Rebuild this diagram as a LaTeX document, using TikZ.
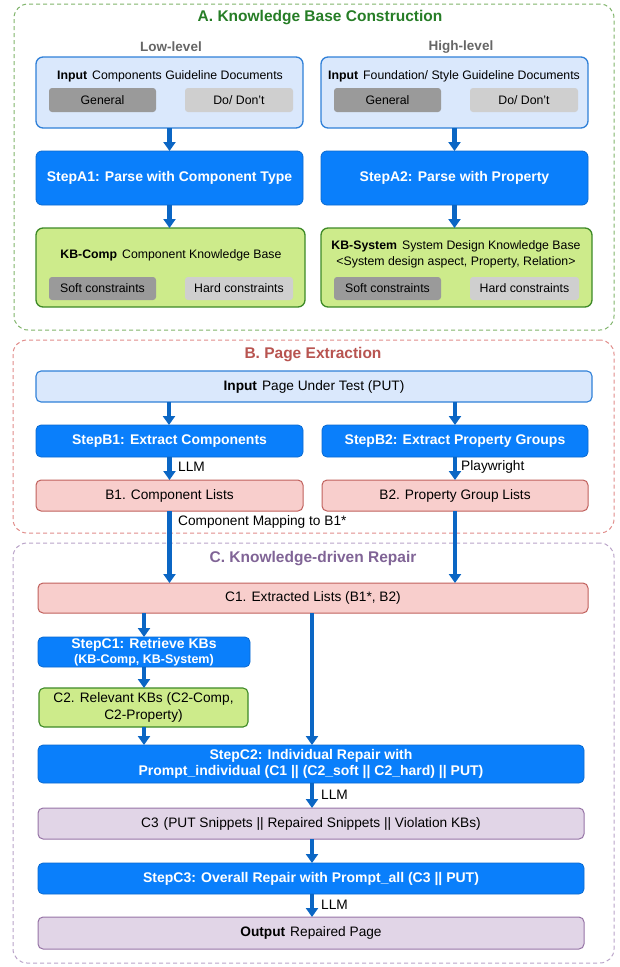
\documentclass[tikz,border=0pt]{standalone}
\usepackage{fontspec}
\setmainfont{Liberation Sans}
\usetikzlibrary{arrows.meta}
\definecolor{inFill}{HTML}{DAE8FC}
\definecolor{inDraw}{HTML}{2F80D8}
\definecolor{stFill}{HTML}{0A7FFB}
\definecolor{stDraw}{HTML}{0A6AD0}
\definecolor{kbFill}{HTML}{CDEB8B}
\definecolor{kbDraw}{HTML}{3D8A26}
\definecolor{gDark}{HTML}{9A9A9A}
\definecolor{gLight}{HTML}{CFCFCF}
\definecolor{rFill}{HTML}{F8CECC}
\definecolor{rDraw}{HTML}{C0605C}
\definecolor{pFill}{HTML}{E1D5E7}
\definecolor{pDraw}{HTML}{9673A6}
\definecolor{arBlue}{HTML}{0B66C4}
\definecolor{secA}{HTML}{7FB36A}
\definecolor{secB}{HTML}{E08C8A}
\definecolor{secC}{HTML}{B9A3C8}
\definecolor{tA}{HTML}{267D26}
\definecolor{tB}{HTML}{B85450}
\definecolor{tC}{HTML}{806496}
\definecolor{lvl}{HTML}{666666}
\newcommand{\fsA}{\fontsize{12.3}{16}\selectfont}
\newcommand{\fsB}{\fontsize{13.7}{17}\selectfont}
\newcommand{\fsS}{\fontsize{14}{16.5}\selectfont\bfseries}
\newcommand{\fsT}{\fontsize{15.5}{18}\selectfont\bfseries}
\begin{document}
\begin{tikzpicture}[x=1pt,y=-1pt,
  base/.style={inner sep=0pt,outer sep=0pt,anchor=north west},
  inbox/.style={base,draw=inDraw,fill=inFill,line width=1.3pt,rounded corners=7pt},
  stepbox/.style={base,draw=stDraw,fill=stFill,line width=0.8pt,rounded corners=6pt,text=white,font=\fsS,align=center},
  kbbox/.style={base,draw=kbDraw,fill=kbFill,line width=1.3pt,rounded corners=7pt},
  gdark/.style={base,fill=gDark,rounded corners=3pt,font=\fsA},
  glight/.style={base,fill=gLight,rounded corners=3pt,font=\fsA},
  redbox/.style={base,draw=rDraw,fill=rFill,line width=1pt,rounded corners=5pt,font=\fsB},
  purbox/.style={base,draw=pDraw,fill=pFill,line width=1pt,rounded corners=5pt,font=\fsB},
  secbox/.style={base,line width=1pt,dash pattern=on 4pt off 3pt,rounded corners=14pt},
  flow/.style={draw=arBlue,line width=4.7pt,-{Triangle[width=12pt,length=9pt]}},
  lbl/.style={anchor=west,inner sep=0pt,font=\fsB},
  ttl/.style={inner sep=0pt,font=\fsT}
]
\useasboundingbox (0,0) rectangle (619,967);

% ---------- Section A ----------
\node[secbox,draw=secA,minimum width=600pt,minimum height=326pt] (secA) at (14,4) {};
\node[ttl,text=tA] (titleA) at (320,18) {A. Knowledge Base Construction};
\node[inner sep=0pt,font=\fontsize{13.5}{16}\selectfont\bfseries,text=lvl] (low) at (171,47) {Low-level};
\node[inner sep=0pt,font=\fontsize{13.5}{16}\selectfont\bfseries,text=lvl] (high) at (461,47) {High-level};

\node[inbox,minimum width=267pt,minimum height=71pt] (inA1) at (36,57) {};
\node[inner sep=0pt,font=\fsA] (inA1t) at (170,76) {\textbf{Input}\hspace{5pt}Components Guideline Documents};
\node[gdark,minimum width=107pt,minimum height=24pt] (genA1) at (49,88) {General};
\node[glight,minimum width=108pt,minimum height=24pt] (dontA1) at (185,88) {Do/ Don't};

\node[stepbox,minimum width=267pt,minimum height=54pt] (stepA1) at (36,151) {StepA1: Parse with Component Type};

\node[kbbox,minimum width=269pt,minimum height=79pt] (kbA1) at (36,228) {};
\node[inner sep=0pt,font=\fsA] (kbA1t) at (171,255) {\textbf{KB-Comp}\hspace{5pt}Component Knowledge Base};
\node[gdark,minimum width=107pt,minimum height=23pt] (softA1) at (49,277) {Soft constraints};
\node[glight,minimum width=108pt,minimum height=23pt] (hardA1) at (185,277) {Hard constraints};

\node[inbox,minimum width=267pt,minimum height=71pt] (inA2) at (321,57) {};
\node[inner sep=0pt,font=\fsA] (inA2t) at (454,76) {\textbf{Input}\hspace{5pt}Foundation/ Style Guideline Documents};
\node[gdark,minimum width=107pt,minimum height=24pt] (genA2) at (334,88) {General};
\node[glight,minimum width=108pt,minimum height=24pt] (dontA2) at (470,88) {Do/ Don't};

\node[stepbox,minimum width=267pt,minimum height=54pt] (stepA2) at (321,151) {StepA2: Parse with Property};

\node[kbbox,minimum width=271pt,minimum height=79pt] (kbA2) at (321,228) {};
\node[inner sep=0pt,font=\fsA,align=center] (kbA2t) at (456,254) {\textbf{KB-System}\hspace{5pt}System Design Knowledge Base\\<System design aspect, Property, Relation>};
\node[gdark,minimum width=107pt,minimum height=23pt] (softA2) at (334,277) {Soft constraints};
\node[glight,minimum width=109pt,minimum height=23pt] (hardA2) at (470,277) {Hard constraints};

\draw[flow] (inA1.south) -- (inA1.south |- stepA1.north);
\draw[flow] (stepA1.south) -- (stepA1.south |- kbA1.north);
\draw[flow] (inA2.south) -- (inA2.south |- stepA2.north);
\draw[flow] (stepA2.south) -- (stepA2.south |- kbA2.north);

% ---------- Section B ----------
\node[secbox,draw=secB,minimum width=601pt,minimum height=193pt] (secB) at (13,340) {};
\node[ttl,text=tB] (titleB) at (313,355) {B. Page Extraction};
\node[inbox,line width=1.1pt,rounded corners=5pt,minimum width=556pt,minimum height=31pt,font=\fsB] (inB) at (36,371) {\textbf{Input}\hspace{5pt}Page Under Test (PUT)};
\node[stepbox,rounded corners=5pt,minimum width=267pt,minimum height=32pt] (stepB1) at (36,425) {StepB1: Extract Components};
\node[stepbox,rounded corners=5pt,minimum width=266pt,minimum height=32pt] (stepB2) at (322,425) {StepB2: Extract Property Groups};
\node[redbox,minimum width=267pt,minimum height=31pt] (B1) at (36,480) {B1. Component Lists};
\node[redbox,minimum width=266pt,minimum height=31pt] (B2) at (322,480) {B2. Property Group Lists};

\coordinate (inBl) at (169,402);
\coordinate (inBr) at (455,402);
\draw[flow] (inBl) -- (inBl |- stepB1.north);
\draw[flow] (inBr) -- (inBr |- stepB2.north);
\draw[flow] (stepB1.south) -- (stepB1.south |- B1.north);
\draw[flow] (stepB2.south) -- (stepB2.south |- B2.north);
\node[lbl] (llmB) at (178,467) {LLM};
\node[lbl] (pw) at (461,467) {Playwright};

% ---------- Section C ----------
\node[secbox,draw=secC,minimum width=601pt,minimum height=420pt] (secC) at (13,543) {};
\node[ttl,text=tC] (titleC) at (313,559) {C. Knowledge-driven Repair};

\node[redbox,minimum width=550pt,minimum height=30pt] (C1) at (38,583) {C1. Extracted Lists (B1*, B2)};
\draw[flow] (B1.south) -- (B1.south |- C1.north);
\draw[flow] (B2.south) -- (B2.south |- C1.north);
\node[lbl] (cmap) at (178,522) {Component Mapping to B1*};

\node[stepbox,rounded corners=5pt,minimum width=212pt,minimum height=30pt] (stepC1) at (38,637) {StepC1: Retrieve KBs\\[-1pt]{\fontsize{12.5}{14}\selectfont (KB-Comp, KB-System)}};
\node[kbbox,line width=1.1pt,rounded corners=5pt,minimum width=209pt,minimum height=39pt,font=\fsB,align=center] (C2) at (39,688) {C2. Relevant KBs (C2-Comp,\\C2-Property)};
\node[stepbox,rounded corners=5pt,minimum width=546pt,minimum height=38pt] (stepC2) at (38,745) {StepC2: Individual Repair with\\Prompt\_individual (C1 || (C2\_soft || C2\_hard) || PUT)};
\node[purbox,minimum width=546pt,minimum height=31pt] (C3) at (38,808) {C3\hspace{5pt}(PUT Snippets || Repaired Snippets || Violation KBs)};
\node[stepbox,rounded corners=5pt,minimum width=546pt,minimum height=31pt] (stepC3) at (38,863) {StepC3: Overall Repair with Prompt\_all (C3 || PUT)};
\node[purbox,minimum width=546pt,minimum height=32pt] (out) at (38,917) {\textbf{Output}\hspace{5pt}Repaired Page};

\coordinate (c1l) at (144,613);
\coordinate (c1m) at (312,613);
\draw[flow] (c1l) -- (c1l |- stepC1.north);
\draw[flow] (c1l |- stepC1.south) -- (c1l |- C2.north);
\draw[flow] (c1l |- C2.south) -- (c1l |- stepC2.north);
\draw[flow] (c1m) -- (c1m |- stepC2.north);
\draw[flow] (c1m |- stepC2.south) -- (c1m |- C3.north);
\draw[flow] (c1m |- C3.south) -- (c1m |- stepC3.north);
\draw[flow] (c1m |- stepC3.south) -- (c1m |- out.north);
\node[lbl] (llmC2) at (321,795) {LLM};
\node[lbl] (llmC3) at (321,905) {LLM};
\end{tikzpicture}
\end{document}
